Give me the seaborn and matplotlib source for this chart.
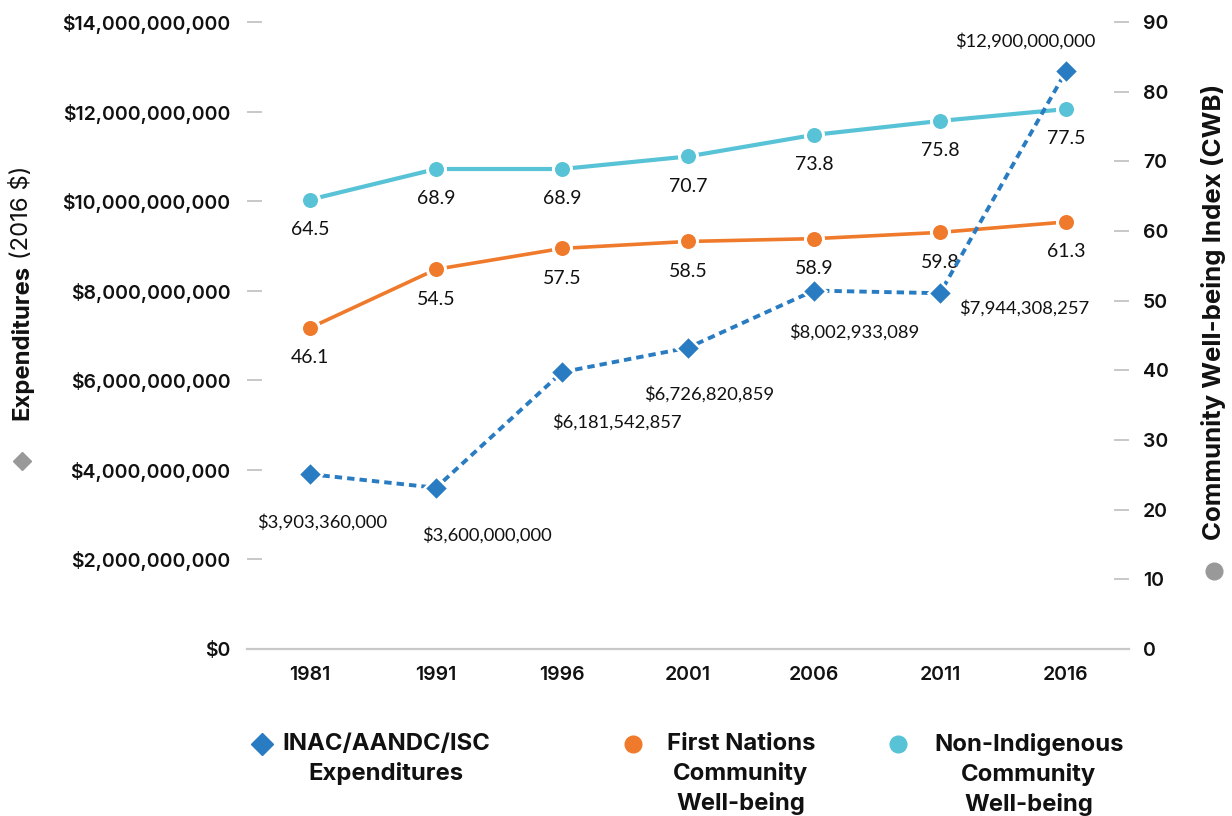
import matplotlib
matplotlib.use("Agg")
import matplotlib.pyplot as plt
from matplotlib.lines import Line2D
import seaborn as sns
import pandas as pd

# ---- data ----
years = ["1981", "1991", "1996", "2001", "2006", "2011", "2016"]
expenditures = [3903360000, 3600000000, 6181542857, 6726820859,
                8002933089, 7944308257, 12900000000]
first_nations_cwb = [46.1, 54.5, 57.5, 58.5, 58.9, 59.8, 61.3]
non_indigenous_cwb = [64.5, 68.9, 68.9, 70.7, 73.8, 75.8, 77.5]
left_ticks = [0, 2e9, 4e9, 6e9, 8e9, 10e9, 12e9, 14e9]
right_ticks = [0, 10, 20, 30, 40, 50, 60, 70, 80, 90]

# label placement (offsets in points) for the expenditure annotations
exp_label_offsets = [(8.6, -34.6), (36.7, -33.8), (39.6, -36), (15.1, -33.1),
                     (28.8, -30.2), (13.7, -10.8), (-29.5, 21.6)]
exp_label_ha = ["center", "center", "center", "center", "center", "left", "center"]

BLUE = "#2a7cc2"
ORANGE = "#ef7a2b"
CYAN = "#58c3d6"
GRAY = "#999999"
TICKGRAY = "#c8c8c8"
INK = "#111111"

sns.set_theme(style="white")
plt.rcParams["font.family"] = ["Inter", "DejaVu Sans"]
LABEL_FONT = ["Lato", "DejaVu Sans"]

df = pd.DataFrame({
    "pos": list(range(len(years))),
    "year": years,
    "exp": expenditures,
    "fn": first_nations_cwb,
    "ni": non_indigenous_cwb,
})

W, H = 1232, 816
fig = plt.figure(figsize=(W / 100, H / 100), dpi=100)
ax1 = fig.add_axes([247 / W, 1 - 649 / H, (1129 - 247) / W, (649 - 22) / H])
ax2 = ax1.twinx()
ax1.set_zorder(ax2.get_zorder() + 1)
ax1.patch.set_visible(False)

# CWB lines (right axis)
sns.lineplot(data=df, x="pos", y="ni", ax=ax2, color=CYAN, linewidth=3,
             marker="o", markersize=13, markeredgecolor="white",
             markeredgewidth=2.2)
sns.lineplot(data=df, x="pos", y="fn", ax=ax2, color=ORANGE, linewidth=2.6,
             marker="o", markersize=13, markeredgecolor="white",
             markeredgewidth=2.2)
# Expenditures (left axis)
sns.lineplot(data=df, x="pos", y="exp", ax=ax1, color=BLUE, linewidth=2.8,
             linestyle=(0, (1.9, 1.3)), marker="D", markersize=12.5,
             markeredgecolor="white", markeredgewidth=1.8)

ax1.set_xlim(-0.5, 6.5)
ax1.set_ylim(0, 14e9)
ax2.set_ylim(0, 90)

ax1.set_xticks(df["pos"], years)
ax1.set_yticks(left_ticks, [f"${v:,.0f}" for v in left_ticks])
ax2.set_yticks(right_ticks, [str(v) for v in right_ticks])

TICK_FS = 14
ax1.tick_params(axis="x", length=0, pad=12, labelsize=TICK_FS, labelcolor=INK)
ax1.tick_params(axis="y", direction="in", length=11, width=1.4, color=TICKGRAY,
                pad=12, labelsize=TICK_FS, labelcolor=INK)
ax2.tick_params(axis="y", direction="in", length=11, width=1.4, color=TICKGRAY,
                pad=10, labelsize=TICK_FS, labelcolor=INK)
for lab in ax1.get_xticklabels() + ax1.get_yticklabels() + ax2.get_yticklabels():
    lab.set_fontweight("semibold")

for s in ["top", "left", "right"]:
    ax1.spines[s].set_visible(False)
ax1.spines["bottom"].set_color(TICKGRAY)
ax1.spines["bottom"].set_linewidth(1.6)
for s in ax2.spines.values():
    s.set_visible(False)
ax1.set_xlabel("")
ax1.set_ylabel("")
ax2.set_ylabel("")
ax1.grid(False)
ax2.grid(False)

# data labels
for series in (non_indigenous_cwb, first_nations_cwb):
    for i, v in enumerate(series):
        ax2.annotate(f"{v}", (i, v), xytext=(0, -21.5), textcoords="offset points",
                     ha="center", va="center", fontsize=14, family=LABEL_FONT,
                     color=INK)
for i, v in enumerate(expenditures):
    ax1.annotate(f"${v:,.0f}", (i, v), xytext=exp_label_offsets[i],
                 textcoords="offset points", ha=exp_label_ha[i], va="center",
                 fontsize=13.2, family=LABEL_FONT, color=INK)

# axis titles
TITLE_FS = 17.2
t1 = fig.text(22 / W, 1 - 420 / H, "Expenditures", rotation=90, ha="center",
              va="bottom", fontsize=TITLE_FS, fontweight="bold", color=INK)
fig.canvas.draw()
bb = t1.get_window_extent(fig.canvas.get_renderer())
fig.text(22 / W, (bb.y1 + 6) / H, "(2016 $)", rotation=90, ha="center",
         va="bottom", fontsize=TITLE_FS, fontweight="normal", color=INK)
fig.add_artist(Line2D([22 / W], [1 - 461 / H], marker="D", markersize=9,
                      color=GRAY, linestyle="none", transform=fig.transFigure))

fig.text(1213 / W, 1 - 312 / H, "Community Well-being Index (CWB)", rotation=90,
         ha="center", va="center", fontsize=18.6, fontweight="bold",
         color=INK)
fig.add_artist(Line2D([1214 / W], [1 - 571 / H], marker="o", markersize=12,
                      color=GRAY, linestyle="none", transform=fig.transFigure))

# legend (manual)
legend_items = [
    ("D", 11, BLUE, 262, 386, "INAC/AANDC/ISC\nExpenditures"),
    ("o", 12, ORANGE, 633, 741, "First Nations\nCommunity\nWell-being"),
    ("o", 12, CYAN, 898, 1029, "Non-Indigenous\nCommunity\nWell-being"),
]
for mk, ms, col, mx, tx, label in legend_items:
    fig.add_artist(Line2D([mx / W], [1 - 744 / H], marker=mk, markersize=ms,
                          color=col, linestyle="none",
                          transform=fig.transFigure))
    fig.text(tx / W, 1 - 733 / H, label, ha="center", va="top",
             multialignment="center", fontsize=17.2, fontweight="bold",
             linespacing=1.38, color=INK)

fig.savefig("out.png", dpi=100)
